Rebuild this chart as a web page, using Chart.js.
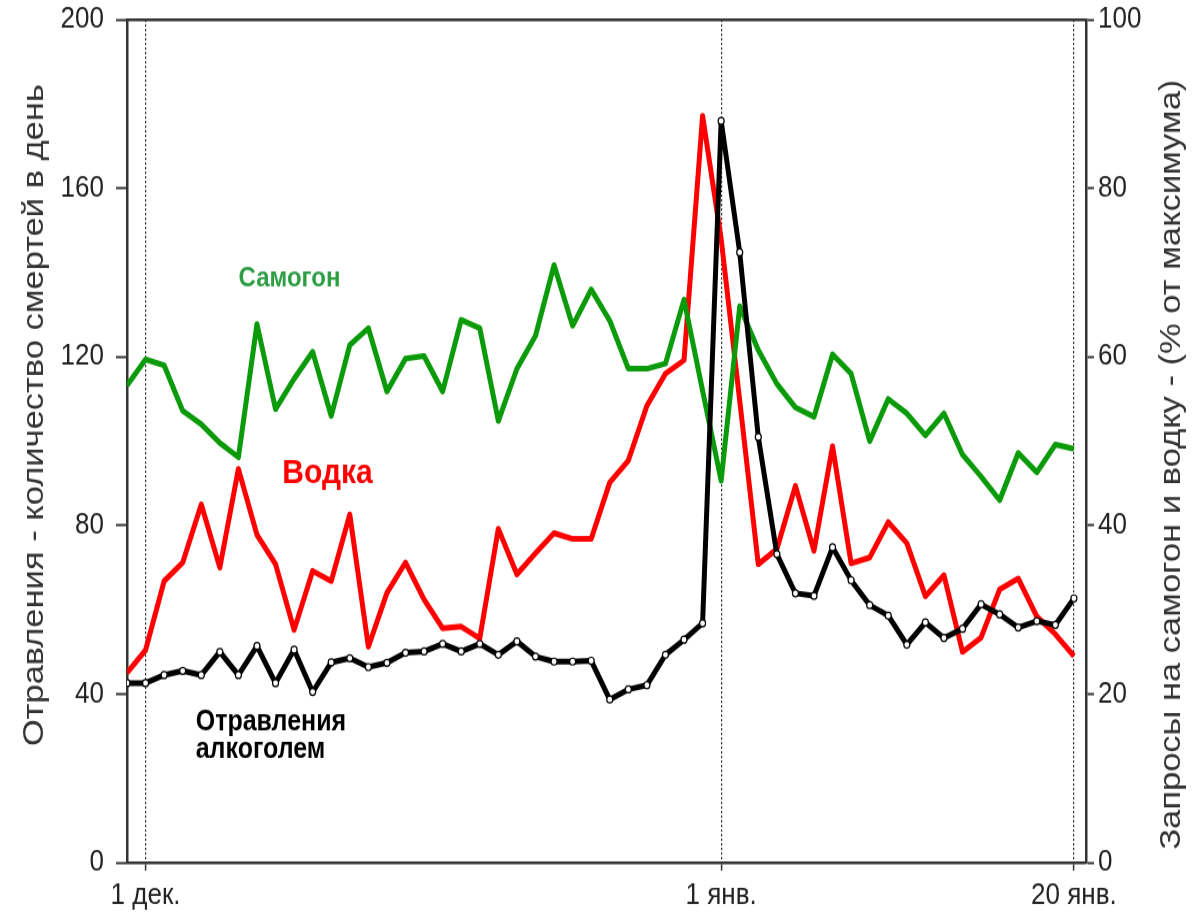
<!DOCTYPE html>
<html>
<head>
<meta charset="utf-8">
<script src="https://cdn.jsdelivr.net/npm/chart.js@4.4.1/dist/chart.umd.min.js"></script>
<style>
  html, body { margin: 0; padding: 0; background: #fff; overflow: hidden; }
</style>
</head>
<body>
<!-- the source picture is stretched vertically, so the canvas is drawn at 793px and shown at 912px -->
<canvas id="canvas1" width="1193" height="793" style="display:block;width:1193px;height:912px"></canvas>
<script>
// days counted from 1 Dec; first point is 30 Nov
const firstDay = -1;
const xTickDays = [0, 31, 50];
const xTickLabels = ['1 дек.', '1 янв.', '20 янв.'];

// deaths per day (left axis)
const poisonings = [
  42.6, 42.6, 44.5, 45.5, 44.5, 50.0, 44.5, 51.4, 42.6, 50.5,
  40.5, 47.5, 48.5, 46.4, 47.4, 49.8, 50.1, 51.9, 50.1, 51.9,
  49.3, 52.5, 48.9, 47.7, 47.7, 47.9, 38.7, 41.1, 42.1, 49.3,
  52.9, 56.8, 176.0, 144.8, 101.0, 73.2, 63.9, 63.3, 74.8, 67.0,
  61.1, 58.6, 51.7, 57.0, 53.3, 55.5, 61.3, 58.9, 55.8, 57.3,
  56.4, 62.7
];
// searches, % of max (right axis)
const samogon = [
  56.6, 59.7, 59.0, 53.6, 52.0, 49.8, 48.1, 63.9, 53.8, 57.4,
  60.6, 53.0, 61.4, 63.4, 55.9, 59.8, 60.1, 55.9, 64.4, 63.4,
  52.4, 58.6, 62.5, 70.9, 63.7, 68.0, 64.3, 58.6, 58.6, 59.2,
  66.8, 56.0, 45.3, 66.0, 60.8, 56.8, 54.0, 52.9, 60.3, 58.0,
  50.0, 55.0, 53.3, 50.7, 53.3, 48.4, 45.8, 43.0, 48.6, 46.3,
  49.6, 49.1
];
const vodka = [
  22.5, 25.2, 33.4, 35.6, 42.5, 35.0, 46.7, 38.9, 35.4, 27.6,
  34.6, 33.4, 41.3, 25.6, 32.0, 35.6, 31.2, 27.8, 28.0, 26.6,
  39.6, 34.2, 36.7, 39.1, 38.4, 38.4, 45.1, 47.7, 54.2, 58.0,
  59.6, 88.6, 74.0, 54.8, 35.4, 37.2, 44.7, 37.0, 49.4, 35.5,
  36.2, 40.4, 37.9, 31.6, 34.1, 25.0, 26.7, 32.4, 33.7, 29.2,
  27.1, 24.5
];

const days = poisonings.map((v, i) => firstDay + i);
const toPoints = arr => arr.map((v, i) => ({ x: days[i], y: v }));

const FONT = "'Liberation Sans', Arial, sans-serif";

const axisTitles = [
  { text: 'Отравления - количество смертей в день', x: 35, y: 361 },
  { text: 'Запросы на самогон и водку - (% от максимума)', x: 1172, y: 404 }
];
const seriesNotes = [
  { lines: ['Самогон'], day: 7.75, value: 138.5, color: '#2e9e45', size: 24, align: 'center' },
  { lines: ['Водка'], day: 9.8, value: 92.4, color: '#ff0000', size: 30, align: 'center' },
  { lines: ['Отравления', 'алкоголем'], day: 2.7, value: 33.3, color: '#000', size: 25, align: 'left' }
];

const textPlugin = {
  id: 'texts',
  afterDraw(chart) {
    const ctx = chart.ctx;
    const xs = chart.scales.x, ys = chart.scales.y;
    ctx.save();
    ctx.fillStyle = '#333';
    ctx.font = '30px ' + FONT;
    ctx.textAlign = 'center';
    ctx.textBaseline = 'middle';
    axisTitles.forEach(t => {
      ctx.save();
      ctx.translate(t.x, t.y);
      ctx.rotate(-Math.PI / 2);
      ctx.fillText(t.text, 0, 0);
      ctx.restore();
    });
    seriesNotes.forEach(n => {
      ctx.font = 'bold ' + n.size + 'px ' + FONT;
      ctx.fillStyle = n.color;
      ctx.textAlign = n.align;
      const px = xs.getPixelForValue(n.day);
      const py = ys.getPixelForValue(n.value);
      n.lines.forEach((line, i) => ctx.fillText(line, px, py + i * 24.5));
    });
    ctx.restore();
  }
};

const data = {
  datasets: [
    {
      label: 'Отравления алкоголем',
      data: toPoints(poisonings),
      yAxisID: 'y',
      borderColor: '#000',
      borderWidth: 5,
      pointRadius: 3,
      pointBackgroundColor: '#fff',
      pointBorderColor: '#000',
      pointBorderWidth: 1.2
    },
    {
      label: 'Самогон',
      data: toPoints(samogon),
      yAxisID: 'y2',
      borderColor: '#0a9a0a',
      borderWidth: 5,
      pointRadius: 0
    },
    {
      label: 'Водка',
      data: toPoints(vodka),
      yAxisID: 'y2',
      borderColor: '#ff0000',
      borderWidth: 5,
      pointRadius: 0
    }
  ]
};

const config = {
  type: 'line',
  data: data,
  options: {
    responsive: false,
    animation: false,
    devicePixelRatio: 1,
    events: [],
    layout: { padding: { top: 17, left: 0, right: 0, bottom: 0 } },
    elements: { line: { tension: 0, borderJoinStyle: 'round', borderCapStyle: 'butt' } },
    plugins: { legend: { display: false }, tooltip: { enabled: false } },
    scales: {
      x: {
        type: 'linear',
        position: 'bottom',
        min: -1,
        max: 50.65,
        afterBuildTicks: axis => { axis.ticks = xTickDays.map(v => ({ value: v })); },
        afterFit: scale => { scale.height = 43; },
        ticks: {
          autoSkip: false,
          maxRotation: 0,
          padding: 6,
          color: '#222',
          font: { family: FONT, size: 26 },
          callback: v => xTickLabels[xTickDays.indexOf(v)]
        },
        grid: {
          color: '#222',
          lineWidth: 1.2,
          tickBorderDash: [],
          tickLength: 7,
          tickColor: '#333',
          tickWidth: 1.5
        },
        border: { display: true, color: '#333', width: 2.5, dash: [2, 2] }
      },
      xTop: {
        type: 'linear',
        position: 'top',
        min: -1,
        max: 50.65,
        afterFit: scale => { scale.height = 0; },
        ticks: { display: false },
        grid: { display: false, drawTicks: false },
        border: { display: true, color: '#333', width: 2.5 }
      },
      y: {
        position: 'left',
        min: 0,
        max: 200,
        afterFit: scale => { scale.width = 127; },
        ticks: { stepSize: 40, padding: 12, color: '#222', font: { family: FONT, size: 26, lineHeight: 0.4 } },
        grid: { drawOnChartArea: false, tickLength: 11, tickColor: '#333', tickWidth: 2 },
        border: { display: true, color: '#333', width: 2.5 }
      },
      y2: {
        position: 'right',
        min: 0,
        max: 100,
        afterFit: scale => { scale.width = 107; },
        ticks: { stepSize: 20, padding: 4, color: '#222', font: { family: FONT, size: 26, lineHeight: 0.4 } },
        grid: { drawOnChartArea: false, tickLength: 8, tickColor: '#333', tickWidth: 2 },
        border: { display: true, color: '#333', width: 2.5 }
      }
    }
  },
  plugins: [textPlugin]
};

const chart = new Chart(document.getElementById('canvas1'), config);
</script>
</body>
</html>
